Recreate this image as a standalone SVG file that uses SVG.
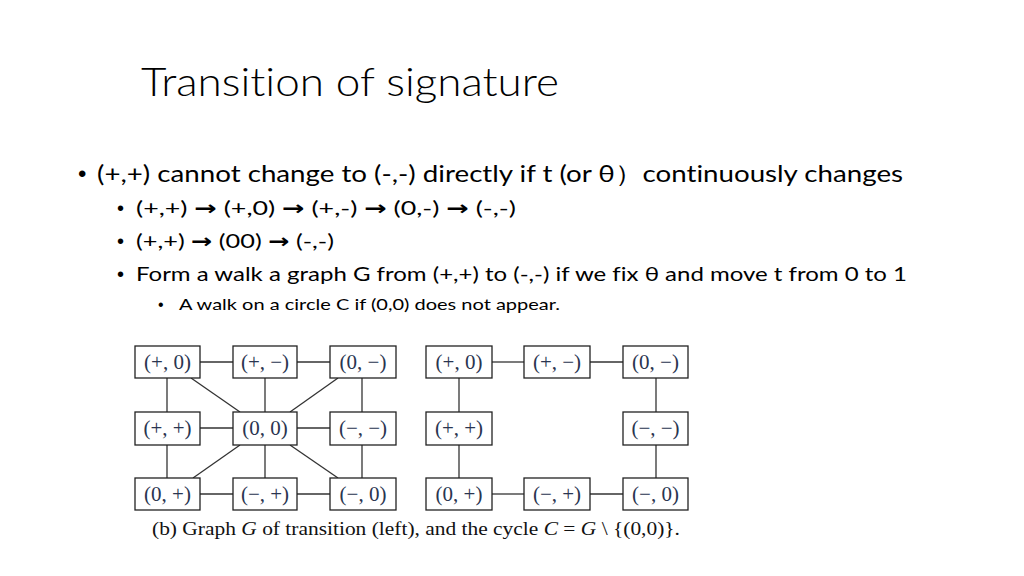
<svg xmlns="http://www.w3.org/2000/svg" width="1024" height="576" viewBox="0 0 1024 576">
<style>
.t{font-family:Lato,"Open Sans","Liberation Sans",sans-serif;fill:#000;font-variant-ligatures:none}
.u{font-family:"Liberation Sans",sans-serif;fill:#000}
.a{font-family:"DejaVu Sans",sans-serif;font-weight:bold}
.b rect{fill:#fff;stroke:#222;stroke-width:1.3}
.b text{font-family:"Liberation Serif","DejaVu Serif",serif;font-size:21px;fill:#2a3550;text-anchor:middle}
.e line{stroke:#333;stroke-width:1.3}
.cap{font-family:"Liberation Serif","DejaVu Serif",serif;font-size:18px;fill:#111}
</style>
<rect width="1024" height="576" fill="#fff"/>
<text class="t" x="141" y="96" font-size="40" font-weight="300" textLength="418" lengthAdjust="spacingAndGlyphs">Transition of signature</text>
<text class="u" x="78" y="182" font-size="24">•</text>
<text class="t" x="97" y="182" font-size="24" textLength="806" lengthAdjust="spacingAndGlyphs">(+,+) cannot change to (-,-) directly if t (or θ）continuously changes</text>
<text class="u" x="117" y="215" font-size="20">•</text>
<text class="t" x="136" y="215" font-size="20" textLength="380" lengthAdjust="spacingAndGlyphs">(+,+) <tspan class="a">→</tspan>  (+,0) <tspan class="a">→</tspan> (+,-) <tspan class="a">→</tspan>  (0,-) <tspan class="a">→</tspan>  (-,-)</text>
<text class="u" x="117" y="248" font-size="20">•</text>
<text class="t" x="136" y="248" font-size="20" textLength="198" lengthAdjust="spacingAndGlyphs">(+,+) <tspan class="a">→</tspan> (00) <tspan class="a">→</tspan> (-,-)</text>
<text class="u" x="117" y="281" font-size="20">•</text>
<text class="t" x="136" y="281" font-size="20" textLength="771" lengthAdjust="spacingAndGlyphs">Form a walk a graph G from (+,+) to (-,-) if we fix θ   and move t from 0 to 1</text>
<text class="u" x="158" y="310" font-size="16">•</text>
<text class="t" x="179" y="310" font-size="16" textLength="381" lengthAdjust="spacingAndGlyphs">A walk on a circle C  if (0,0) does not appear.</text>

<g id="edges" class="e">
<line x1="200" y1="362" x2="233" y2="362"/>
<line x1="297" y1="362" x2="330" y2="362"/>
<line x1="200" y1="428" x2="233" y2="428"/>
<line x1="297" y1="428" x2="330" y2="428"/>
<line x1="200" y1="494" x2="233" y2="494"/>
<line x1="297" y1="494" x2="330" y2="494"/>
<line x1="167" y1="378" x2="167" y2="412"/>
<line x1="265" y1="378" x2="265" y2="412"/>
<line x1="362" y1="378" x2="362" y2="412"/>
<line x1="167" y1="445" x2="167" y2="478"/>
<line x1="265" y1="445" x2="265" y2="478"/>
<line x1="362" y1="445" x2="362" y2="478"/>
<line x1="191" y1="378" x2="240" y2="412"/>
<line x1="338" y1="378" x2="290" y2="412"/>
<line x1="240" y1="445" x2="193" y2="478"/>
<line x1="290" y1="445" x2="338" y2="478"/>
<line x1="492" y1="362" x2="524" y2="362"/>
<line x1="590" y1="362" x2="623" y2="362"/>
<line x1="492" y1="494" x2="524" y2="494"/>
<line x1="590" y1="494" x2="623" y2="494"/>
<line x1="459" y1="378" x2="459" y2="412"/>
<line x1="459" y1="445" x2="459" y2="478"/>
<line x1="656" y1="378" x2="656" y2="412"/>
<line x1="656" y1="445" x2="656" y2="478"/>
</g>

<g id="nodes" class="b">
<g id="L_p0"><rect x="135" y="346" width="65" height="32"/><text x="167.5" y="369">(+, 0)</text></g>
<g id="L_pm"><rect x="233" y="346" width="64" height="32"/><text x="265" y="369">(+, −)</text></g>
<g id="L_0m"><rect x="330" y="346" width="66" height="32"/><text x="363" y="369">(0, −)</text></g>
<g id="L_pp"><rect x="135" y="412" width="65" height="33"/><text x="167.5" y="435">(+, +)</text></g>
<g id="L_00"><rect x="233" y="412" width="64" height="33"/><text x="265" y="435">(0, 0)</text></g>
<g id="L_mm"><rect x="330" y="412" width="66" height="33"/><text x="363" y="435">(−, −)</text></g>
<g id="L_0p"><rect x="135" y="478" width="65" height="32"/><text x="167.5" y="501">(0, +)</text></g>
<g id="L_mp"><rect x="233" y="478" width="64" height="32"/><text x="265" y="501">(−, +)</text></g>
<g id="L_m0"><rect x="330" y="478" width="66" height="32"/><text x="363" y="501">(−, 0)</text></g>
<g id="R_p0"><rect x="426" y="346" width="66" height="32"/><text x="459" y="369">(+, 0)</text></g>
<g id="R_pm"><rect x="524" y="346" width="66" height="32"/><text x="557" y="369">(+, −)</text></g>
<g id="R_0m"><rect x="623" y="346" width="65" height="32"/><text x="655.5" y="369">(0, −)</text></g>
<g id="R_pp"><rect x="426" y="412" width="66" height="33"/><text x="459" y="435">(+, +)</text></g>
<g id="R_mm"><rect x="623" y="412" width="65" height="33"/><text x="655.5" y="435">(−, −)</text></g>
<g id="R_0p"><rect x="426" y="478" width="66" height="32"/><text x="459" y="501">(0, +)</text></g>
<g id="R_mp"><rect x="524" y="478" width="66" height="32"/><text x="557" y="501">(−, +)</text></g>
<g id="R_m0"><rect x="623" y="478" width="65" height="32"/><text x="655.5" y="501">(−, 0)</text></g>
</g>

<text class="cap" x="152" y="535" textLength="528" lengthAdjust="spacingAndGlyphs">(b) Graph <tspan font-style="italic">G</tspan> of transition (left), and the cycle <tspan font-style="italic">C</tspan> = <tspan font-style="italic">G</tspan> \ {(0,0)}.</text>
</svg>
